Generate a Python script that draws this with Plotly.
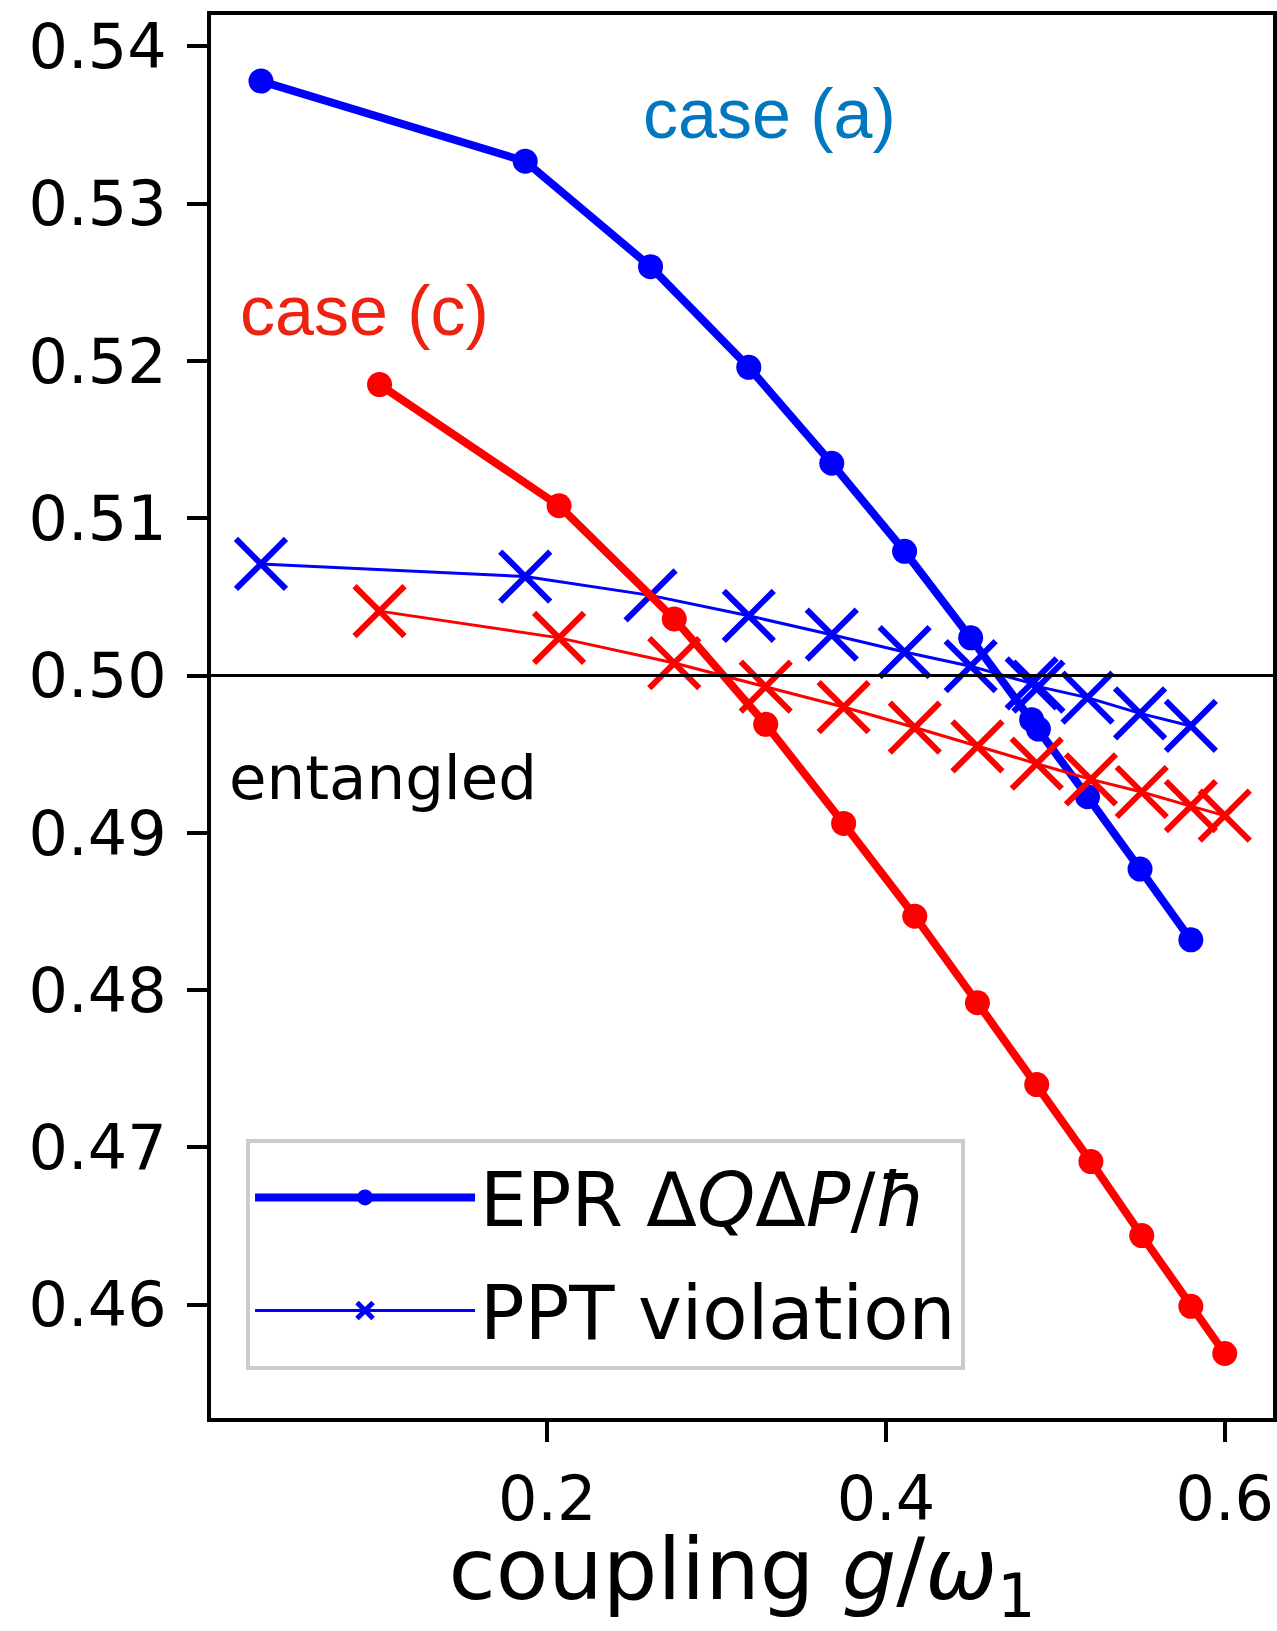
import plotly.graph_objects as go

# coupling strengths g/omega_1 for the two cases
g_a = [0.031, 0.187, 0.261, 0.319, 0.368, 0.411, 0.450, 0.486, 0.490, 0.519, 0.550, 0.580]
g_c = [0.101, 0.207, 0.275, 0.329, 0.375, 0.417, 0.454, 0.489, 0.521, 0.551, 0.580, 0.600]

# EPR product dQ dP / hbar
epr_a = [0.5378, 0.5327, 0.5260, 0.5196, 0.5135, 0.5079, 0.5024, 0.4972, 0.4966, 0.4923, 0.4877, 0.4832]
epr_c = [0.5185, 0.5108, 0.5036, 0.4969, 0.4906, 0.4847, 0.4792, 0.4740, 0.4691, 0.4644, 0.4599, 0.4569]

# PPT violation measure
ppt_a = [0.5071, 0.5063, 0.5051, 0.5038, 0.5026, 0.5015, 0.5006, 0.4995, 0.4993, 0.4986, 0.4976, 0.4968]
ppt_c = [0.5041, 0.5024, 0.5008, 0.4993, 0.4980, 0.4967, 0.4955, 0.4944, 0.4934, 0.4926, 0.4917, 0.4911]

x_ticks = [0.2, 0.4, 0.6]
y_ticks = [0.46, 0.47, 0.48, 0.49, 0.50, 0.51, 0.52, 0.53, 0.54]

BLUE = "#0000FF"
RED = "#FF0000"
TICK_FONT = "DejaVu Sans"

fig = go.Figure()

def epr_trace(x, y, color, name, show, group):
    return go.Scatter(
        x=x, y=y, mode="lines+markers", name=name, showlegend=show,
        legendgroup=group,
        line=dict(color=color, width=8),
        marker=dict(symbol="circle", size=25, color=color),
    )

def ppt_trace(x, y, color, name, show, group):
    return go.Scatter(
        x=x, y=y, mode="lines+markers", name=name, showlegend=show,
        legendgroup=group,
        line=dict(color=color, width=3),
        marker=dict(symbol="x-thin", size=50, color=color,
                    line=dict(color=color, width=6)),
    )

fig.add_trace(epr_trace(g_a, epr_a, BLUE, "EPR Δ<i>Q</i>Δ<i>P</i>/<i>ħ</i>", True, "epr"))
fig.add_trace(ppt_trace(g_a, ppt_a, BLUE, "PPT violation", True, "ppt"))
fig.add_trace(epr_trace(g_c, epr_c, RED, "EPR case (c)", False, "epr"))
fig.add_trace(ppt_trace(g_c, ppt_c, RED, "PPT case (c)", False, "ppt"))

# separable / entangled boundary
fig.add_hline(y=0.5, line=dict(color="black", width=3))

fig.add_annotation(x=0.331, y=0.5357, xref="x", yref="y", text="case (a)",
                   showarrow=False, xanchor="center", yanchor="middle",
                   font=dict(family="Liberation Sans", size=70, color="#0077BE"))
fig.add_annotation(x=0.092, y=0.5232, xref="x", yref="y", text="case (c)",
                   showarrow=False, xanchor="center", yanchor="middle",
                   font=dict(family="Liberation Sans", size=70, color="#EE2211"))
fig.add_annotation(x=0.011, y=0.4935, xref="x", yref="y", text="entangled",
                   showarrow=False, xanchor="left", yanchor="middle",
                   font=dict(family=TICK_FONT, size=61, color="black"))

axis_common = dict(
    showline=True, linecolor="black", linewidth=4, mirror=True,
    ticks="outside", ticklen=20, tickwidth=4, tickcolor="black",
    showgrid=False, zeroline=False, automargin=False,
    tickfont=dict(family=TICK_FONT, size=62, color="black"),
)

fig.update_xaxes(
    range=[0.0015, 0.6285], tickvals=x_ticks, tickformat=".1f",
    ticklabelstandoff=4,
    title=dict(text="coupling <i>g</i>/<i>ω</i><sub>1</sub>",
               font=dict(family=TICK_FONT, size=86, color="black"),
               standoff=34),
    **axis_common,
)
fig.update_yaxes(
    range=[0.4528, 0.5420], tickvals=y_ticks, tickformat=".2f",
    ticklabelstandoff=8,
    **axis_common,
)

fig.update_layout(
    width=1277, height=1631,
    margin=dict(l=211, r=4, t=15, b=213),
    plot_bgcolor="white", paper_bgcolor="white",
    legend=dict(
        x=0.033, y=0.199, xanchor="left", yanchor="top",
        bgcolor="white", bordercolor="#CCCCCC", borderwidth=4,
        font=dict(family=TICK_FONT, size=74, color="black"),
        itemwidth=220, traceorder="grouped", tracegroupgap=14,
    ),
)

fig.write_html("out.html")
